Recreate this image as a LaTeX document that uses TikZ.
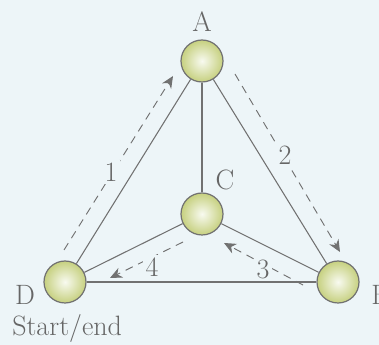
\documentclass[tikz,border=0pt]{standalone}
\usetikzlibrary{arrows.meta}
\definecolor{bgblue}{HTML}{EDF5F8}
\definecolor{edgegray}{HTML}{717171}
\definecolor{txtgray}{HTML}{666666}
\definecolor{ballout}{HTML}{C6D07F}
\definecolor{ballin}{HTML}{F8FAF0}
\tikzset{
  vertex/.style={circle,draw=edgegray,line width=0.9pt,minimum size=31.5pt,
    inner sep=0pt,inner color=ballin,outer color=ballout},
  edge/.style={draw=edgegray,line width=0.8pt},
  walk/.style={draw=edgegray,line width=0.7pt,dash pattern=on 6pt off 4.5pt,
    -{Stealth[length=9pt,width=8pt]}},
  lbl/.style={text=txtgray,font=\fontsize{21}{25}\selectfont,inner sep=0pt},
  num/.style={lbl,fill=bgblue,inner sep=2pt}
}
\begin{document}
\begin{tikzpicture}[x=0.75pt,y=-0.75pt]
  % background
  \fill[bgblue] (0,0) rectangle (379,345);
  \useasboundingbox (0,0) rectangle (379,345);
  % balls
  \node[vertex] (A) at (202,61) {};
  \node[vertex] (C) at (202,214) {};
  \node[vertex] (D) at (65,282) {};
  \node[vertex] (B) at (338,282) {};
  % letters
  \node[lbl] (lA) at (202,22) {A};
  \node[lbl] (lC) at (225,180) {C};
  \node[lbl] (lD) at (25,295) {D};
  \node[lbl,anchor=west] (lB) at (371,295) {B};
  \node[lbl,anchor=west] (start) at (12,329) {Start/end};
  % edges
  \draw[edge] (A) -- (D);
  \draw[edge] (A) -- (B);
  \draw[edge] (A) -- (C);
  \draw[edge] (C) -- (D);
  \draw[edge] (C) -- (B);
  \draw[edge] (D) -- (B);
  % route
  \coordinate (w1s) at (64,250);  \coordinate (w1e) at (173,76);
  \coordinate (w2s) at (235,74);  \coordinate (w2e) at (340,252);
  \coordinate (w3s) at (303,285); \coordinate (w3e) at (224,243);
  \coordinate (w4s) at (183,242); \coordinate (w4e) at (110,278);
  \draw[walk] (w1s) -- (w1e);
  \draw[walk] (w2s) -- (w2e);
  \draw[walk] (w3s) -- (w3e);
  \draw[walk] (w4s) -- (w4e);
  \node[num] (n1) at (111,172) {1};
  \node[num] (n2) at (285,155) {2};
  \node[num] (n3) at (263,269) {3};
  \node[num] (n4) at (152,267) {4};
\end{tikzpicture}
\end{document}
